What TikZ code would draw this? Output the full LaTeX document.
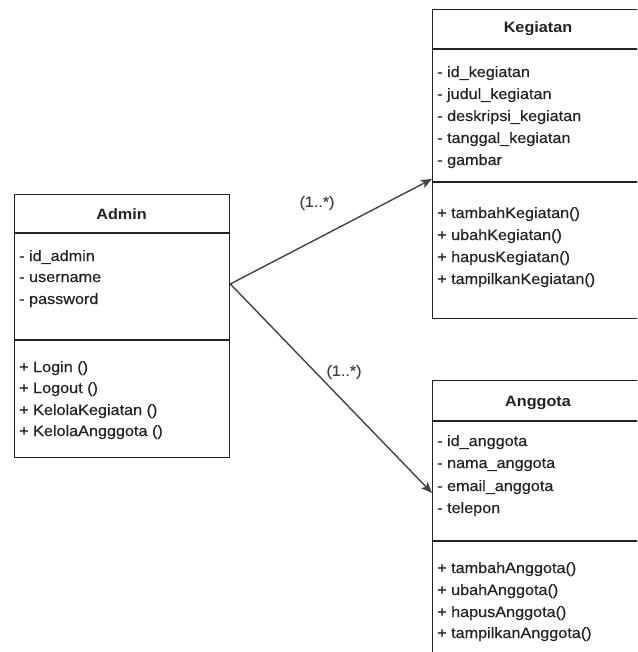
\documentclass[tikz,border=0pt]{standalone}
\usepackage{fontspec}
\setmainfont{Liberation Sans}[FakeStretch=1.08,UprightFeatures={FakeBold=0.3}]
\usetikzlibrary{arrows.meta}
\definecolor{linec}{HTML}{222222}
\definecolor{txtc}{HTML}{222222}
\definecolor{arrc}{HTML}{444444}
\begin{document}
\begin{tikzpicture}[x=1pt,y=-1pt,
  classbox/.style={draw=linec,line width=1.3pt,fill=white},
  sepline/.style={draw=linec,line width=1.3pt},
  member/.style={anchor=base west,inner sep=0pt,text=txtc,font=\fontsize{15}{17}\selectfont},
  ctitle/.style={anchor=base,inner sep=0pt,text=txtc,font=\fontsize{15}{17}\selectfont\bfseries},
  mult/.style={inner sep=0pt,text=arrc,font=\fontsize{15}{17}\selectfont},
  assoc/.style={draw=arrc,line width=1.4pt,-{Stealth[length=11pt,width=9pt,inset=2.5pt]}}]
\useasboundingbox (0,0) rectangle (637,652);
\clip (0,0) rectangle (637,652);
\fill[white] (0,0) rectangle (637,652);

% Admin
\node[classbox,anchor=north west,minimum width=215pt,minimum height=263pt,inner sep=0pt] (admin) at (14,194) {};
\draw[sepline] (14,233) -- (229,233);
\draw[sepline] (14,340) -- (229,340);
\node[ctitle] (admint) at (121.5,219) {Admin};
\node[member] (a1) at (19,261) {- id\_admin};
\node[member] (a2) at (19,282) {- username};
\node[member] (a3) at (19,304) {- password};
\node[member] (am1) at (19,372) {+ Login ()};
\node[member] (am2) at (19,393) {+ Logout ()};
\node[member] (am3) at (19,415) {+ KelolaKegiatan ()};
\node[member] (am4) at (19,436) {+ KelolaAngggota ()};

% Kegiatan
\node[classbox,anchor=north west,minimum width=240pt,minimum height=309pt,inner sep=0pt] (keg) at (432,9) {};
\draw[sepline] (432,49) -- (672,49);
\draw[sepline] (432,182) -- (672,182);
\node[ctitle] (kegt) at (538,33) {Kegiatan};
\node[member] (k1) at (437,77) {- id\_kegiatan};
\node[member] (k2) at (437,99) {- judul\_kegiatan};
\node[member] (k3) at (437,121) {- deskripsi\_kegiatan};
\node[member] (k4) at (437,143) {- tanggal\_kegiatan};
\node[member] (k5) at (437,165) {- gambar};
\node[member] (km1) at (437,218) {+ tambahKegiatan()};
\node[member] (km2) at (437,240) {+ ubahKegiatan()};
\node[member] (km3) at (437,262) {+ hapusKegiatan()};
\node[member] (km4) at (437,284) {+ tampilkanKegiatan()};

% Anggota
\node[classbox,anchor=north west,minimum width=240pt,minimum height=300pt,inner sep=0pt] (ang) at (432,380) {};
\draw[sepline] (432,421) -- (672,421);
\draw[sepline] (432,541) -- (672,541);
\node[ctitle] (angt) at (538,406) {Anggota};
\node[member] (g1) at (437,446) {- id\_anggota};
\node[member] (g2) at (437,468) {- nama\_anggota};
\node[member] (g3) at (437,491) {- email\_anggota};
\node[member] (g4) at (437,513) {- telepon};
\node[member] (gm1) at (437,573) {+ tambahAnggota()};
\node[member] (gm2) at (437,595) {+ ubahAnggota()};
\node[member] (gm3) at (437,617) {+ hapusAnggota()};
\node[member] (gm4) at (437,638) {+ tampilkanAnggota()};

% connectors
\coordinate (src) at (admin.east |- 0,284);
\coordinate (kin) at (keg.west |- 0,179);
\coordinate (gin) at (ang.west |- 0,493);
\draw[assoc] (src) -- (kin);
\draw[assoc] (src) -- (gin);
\node[mult] (m1) at (317,203) {(1..*)};
\node[mult] (m2) at (344,372) {(1..*)};
\end{tikzpicture}
\end{document}
